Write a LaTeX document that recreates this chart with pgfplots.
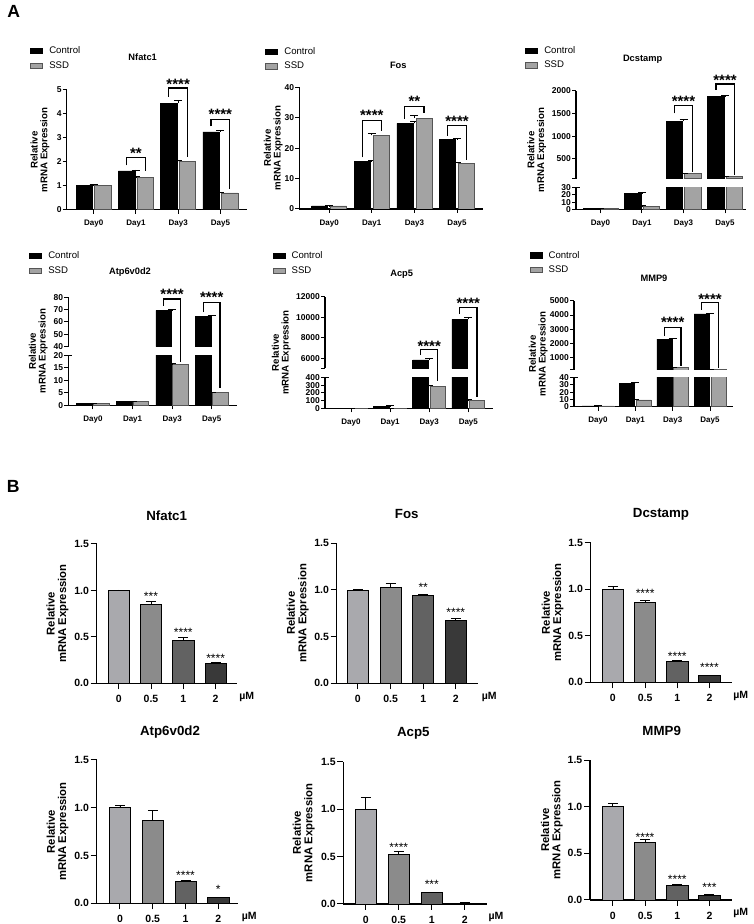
\documentclass[border=0pt]{standalone}
\usepackage{fontspec}
\setmainfont{Liberation Sans}
\usepackage{pgfplots}
\pgfplotsset{compat=1.18}
\definecolor{ssd}{HTML}{A3A3A3}
\definecolor{ssdedge}{HTML}{555555}
\definecolor{cA}{HTML}{A9A9AD}
\definecolor{cB}{HTML}{8B8B8B}
\definecolor{cC}{HTML}{626262}
\definecolor{cD}{HTML}{393939}
\newcommand{\fs}[1]{\fontsize{#1}{#1}\selectfont}
\tikzset{
  brk/.style={line width=1.2pt, black},
  stA/.style={font=\bfseries\fs{15}, inner sep=0pt, anchor=base, yshift=-8.6pt},
  stB/.style={font=\fs{12}, inner sep=0pt, anchor=base, yshift=-6.9pt},
}
\pgfplotsset{
  legsq/.style={legend image code/.code={\draw[##1] (0pt,-2.6pt) rectangle (12pt,2.6pt);}},
  errs/.style={/pgfplots/error bars/y dir=plus, /pgfplots/error bars/y explicit,
     /pgfplots/error bars/error mark=|,
     /pgfplots/error bars/error bar style={line width=0.8pt, black},
     /pgfplots/error bars/error mark options={line width=0.8pt, black, mark size=#1}},
  ctrl/.style={ybar, fill=black, draw=black, line width=0.6pt, bar shift=-#1, legsq, errs=4pt},
  ssdb/.style={ybar, fill=ssd, draw=ssdedge, line width=0.6pt, bar shift=#1, legsq, errs=4pt},
  bb/.style={ybar, fill=#1, draw=black, line width=0.7pt, bar shift=0pt, errs=5pt},
  base/.style={scale only axis, anchor=south west, axis x line*=bottom, axis y line*=left,
    axis line style={line width=1.1pt, black}, tick align=outside,
    tick style={black, line width=1pt},
    clip mode=individual, scaled y ticks=false,
    /pgf/number format/assume math mode=true, /pgf/number format/1000 sep={},
    xtick={0,1,2,3}},
  pA/.style={base, major tick length=4pt, xticklabels={Day0,Day1,Day3,Day5},
    xticklabel style={font=\bfseries\fs{8}, yshift=-3pt},
    yticklabel style={font=\bfseries\fs{8.5}, inner sep=1pt},
    ylabel={Relative\\mRNA Expression},
    ylabel style={font=\bfseries\fs{9.7}, align=center, anchor=center},
    title style={font=\bfseries\fs{9.3}, anchor=center, yshift=0pt},
    legend style={draw=none, fill=none, font=\fs{9.6}, anchor=west, inner sep=0pt,
      row sep=3.5pt, column sep=5pt, cells={anchor=west}, nodes={inner sep=1.5pt}}},
  pAup/.style={pA, axis x line=none},
  pAlo/.style={pA, ylabel={}},
  Tcap/.style={extra y ticks={#1}, extra y tick labels={}, extra y tick style={tick align=center, major tick length=8pt}},
  pB/.style={base, major tick length=6pt, ymin=0, ymax=1.5, ytick={0,0.5,1,1.5},
    yticklabels={0.0,0.5,1.0,1.5}, xticklabels={0,0.5,1,2}, bar width=21.3pt,
    xticklabel style={font=\bfseries\fs{10.5}, yshift=-2.5pt},
    yticklabel style={font=\bfseries\fs{10.5}, inner sep=1.5pt},
    ylabel={Relative\\mRNA Expression},
    ylabel style={font=\bfseries\fs{11.3}, align=center, anchor=center},
    title style={font=\bfseries\fs{13.3}, anchor=center, yshift=0pt}},
}
\newcommand{\um}[2]{\node[font=\bfseries\fs{10.5}] at (axis description cs:#1,#2) {µM};}
\newcommand{\legimgs}{%
  \addlegendimage{legsq, fill=black, draw=black, line width=0.6pt}
  \addlegendimage{legsq, fill=ssd, draw=ssdedge, line width=0.6pt}}
\begin{document}
\begin{tikzpicture}
\useasboundingbox (0,0) rectangle (753pt,924pt);
\node[font=\bfseries\fs{17.6}] at (13.7pt,912.3pt) {A};
\node[font=\bfseries\fs{17.6}] at (13.3pt,437.3pt) {B};

% ---------------- A1 Nfatc1
\begin{axis}[pA, at={(66.7pt,714.3pt)}, width=180.3pt, height=119.7pt,
  xmin=-0.64, xmax=3.63, ymin=0, ymax=5, ytick={0,...,5}, bar width=16.5pt,
  title=Nfatc1, title style={at={(axis description cs:0.4215,1.228)}},
  ylabel style={at={(axis description cs:-0.148,0.499)}},
  legend style={at={(axis description cs:-0.2035,1.2653)}}]
\addplot[ctrl=9.3pt] coordinates {(0,1.0) +- (0,0.04) (1,1.62) +- (0,0.04) (2,4.45) +- (0,0.12) (3,3.25) +- (0,0.05)};
\addplot[ssdb=9.3pt] coordinates {(0,1.0) +- (0,0.04) (1,1.35) +- (0,0.03) (2,2.02) +- (0,0.05) (3,0.70) +- (0,0.02)};
\legend{Control,SSD}
\draw[brk] ([xshift=-9.3pt]axis cs:1,1.85) |- ([xshift=9.3pt]axis cs:1,2.18) -- ([xshift=9.3pt]axis cs:1,1.6);
\node[stA] at (axis cs:1,2.48) {**};
\draw[brk] ([xshift=-9.3pt]axis cs:2,4.72) |- ([xshift=9.3pt]axis cs:2,5.08) -- ([xshift=9.3pt]axis cs:2,2.2);
\node[stA] at (axis cs:2,5.4) {****};
\draw[brk] ([xshift=-9.3pt]axis cs:3,3.48) |- ([xshift=9.3pt]axis cs:3,3.78) -- ([xshift=9.3pt]axis cs:3,0.85);
\node[stA] at (axis cs:3,4.11) {****};
\end{axis}

% ---------------- A2 Fos
\begin{axis}[pA, at={(299.3pt,715pt)}, width=184pt, height=121.7pt,
  xmin=-0.70, xmax=3.616, ymin=0, ymax=40, ytick={0,10,...,40}, bar width=16pt,
  title=Fos, title style={at={(axis description cs:0.538,1.134)}},
  ylabel style={at={(axis description cs:-0.1413,0.501)}},
  legend style={at={(axis description cs:-0.186,1.234)}}]
\addplot[ctrl=9.6pt] coordinates {(0,1.0) +- (0,0.1) (1,15.6) +- (0,0.5) (2,28.1) +- (0,0.8) (3,22.8) +- (0,0.3)};
\addplot[ssdb=9.6pt] coordinates {(0,1.0) +- (0,0.1) (1,24.2) +- (0,0.5) (2,29.9) +- (0,0.9) (3,15.0) +- (0,0.3)};
\legend{Control,SSD}
\draw[brk] ([xshift=-9.6pt]axis cs:1,17.0) |- ([xshift=9.6pt]axis cs:1,29.1) -- ([xshift=9.6pt]axis cs:1,25.6);
\node[stA] at (axis cs:1,32.0) {****};
\draw[brk] ([xshift=-9.6pt]axis cs:2,29.6) |- ([xshift=9.6pt]axis cs:2,33.8) -- ([xshift=9.6pt]axis cs:2,31.6);
\node[stA] at (axis cs:2,36.6) {**};
\draw[brk] ([xshift=-9.6pt]axis cs:3,24.0) |- ([xshift=9.6pt]axis cs:3,27.4) -- ([xshift=9.6pt]axis cs:3,16.2);
\node[stA] at (axis cs:3,29.8) {****};
\end{axis}

% ---------------- A3 Dcstamp (broken)
\begin{axis}[pAup, at={(576pt,745.3pt)}, width=170pt, height=87.7pt,
  xmin=-0.59, xmax=3.506, ymin=57, ymax=2000, ytick={57,500,1000,1500,2000},
  yticklabels={,500,1000,1500,2000}, bar width=16.5pt,
  title=Dcstamp, title style={at={(axis description cs:0.392,1.288)}},
  ylabel style={at={(axis description cs:-0.231,0.327)}},
  legend style={at={(axis description cs:-0.300,1.379)}}]
\legimgs
\addplot[ctrl=9.1pt, forget plot] coordinates {(2,1335) +- (0,30) (3,1875) +- (0,25)};
\addplot[ssdb=9.1pt, forget plot] coordinates {(2,177) +- (0,5) (3,112) +- (0,4)};
\legend{Control,SSD}
\draw[brk] ([xshift=-9.1pt]axis cs:2,1506) |- ([xshift=9.1pt]axis cs:2,1683) -- ([xshift=9.1pt]axis cs:2,212);
\node[stA] at (axis cs:2,1845) {****};
\draw[brk] ([xshift=-9.1pt]axis cs:3,2022) |- ([xshift=9.1pt]axis cs:3,2155) -- ([xshift=9.1pt]axis cs:3,139);
\node[stA] at (axis cs:3,2317) {****};
\end{axis}
\begin{axis}[pAlo, at={(576pt,714.7pt)}, width=170pt, height=21.6pt,
  xmin=-0.59, xmax=3.506, ymin=0, ymax=30, ytick={0,10,20,30}, bar width=16.5pt, Tcap=30]
\addplot[ctrl=9.1pt] coordinates {(0,1) +- (0,0.2) (1,22) +- (0,1) (2,1335) +- (0,30) (3,1875) +- (0,25)};
\addplot[ssdb=9.1pt] coordinates {(0,1) +- (0,0.2) (1,4.5) +- (0,0.5) (2,177) +- (0,5) (3,112) +- (0,4)};
\end{axis}

% ---------------- A4 Atp6v0d2 (broken)
\begin{axis}[pAup, at={(68.3pt,577.3pt)}, width=169pt, height=49.4pt,
  xmin=-0.624, xmax=3.646, ymin=40, ymax=80, ytick={40,50,...,80}, bar width=15.8pt,
  title=Atp6v0d2, title style={at={(axis description cs:0.365,1.397)}},
  ylabel style={at={(axis description cs:-0.1775,-0.093)}},
  legend style={at={(axis description cs:-0.2326,1.689)}}]
\legimgs
\addplot[ctrl=8.3pt, forget plot] coordinates {(2,69.5) +- (0,0.5) (3,64.6) +- (0,0.5)};
\legend{Control,SSD}
\draw[brk] ([xshift=-8.3pt]axis cs:2,73) |- ([xshift=8.3pt]axis cs:2,78.6) -- ([xshift=8.3pt]axis cs:2,27.6);
\node[stA] at (axis cs:2,85.1) {****};
\draw[brk] ([xshift=-8.3pt]axis cs:3,68) |- ([xshift=8.3pt]axis cs:3,75.9) -- ([xshift=8.3pt]axis cs:3,6.6);
\node[stA] at (axis cs:3,82.4) {****};
\end{axis}
\begin{axis}[pAlo, at={(68.3pt,518.7pt)}, width=169pt, height=50pt,
  xmin=-0.624, xmax=3.646, ymin=0, ymax=20, ytick={0,5,...,20}, bar width=15.8pt, Tcap=20]
\addplot[ctrl=8.3pt] coordinates {(0,0.8) +- (0,0.05) (1,1.5) +- (0,0.1) (2,69.5) +- (0,0.5) (3,64.6) +- (0,0.5)};
\addplot[ssdb=8.3pt] coordinates {(0,0.9) +- (0,0.05) (1,1.6) +- (0,0.1) (2,16.4) +- (0,0.2) (3,5.0) +- (0,0.2)};
\end{axis}

% ---------------- A5 Acp5 (broken)
\begin{axis}[pAup, at={(325pt,555.5pt)}, width=168.3pt, height=71.8pt,
  xmin=-0.665, xmax=3.639, ymin=5000, ymax=12000, ytick={5000,6000,8000,10000,12000},
  yticklabels={,6000,8000,10000,12000}, bar width=15.6pt,
  title=Acp5, title style={at={(axis description cs:0.4557,1.2326)}},
  ylabel style={at={(axis description cs:-0.2597,0.2228)}},
  legend style={at={(axis description cs:-0.313,1.465)}}]
\legimgs
\addplot[ctrl=8.65pt, forget plot] coordinates {(2,5830) +- (0,200) (3,9780) +- (0,250)};
\legend{Control,SSD}
\draw[brk] ([xshift=-8.65pt]axis cs:2,6312) |- ([xshift=8.65pt]axis cs:2,6868) -- ([xshift=8.65pt]axis cs:2,3776);
\node[stA] at (axis cs:2,7512) {****};
\draw[brk] ([xshift=-8.65pt]axis cs:3,10312) |- ([xshift=8.65pt]axis cs:3,10927) -- ([xshift=8.65pt]axis cs:3,2215);
\node[stA] at (axis cs:3,11678) {****};
\end{axis}
\begin{axis}[pAlo, at={(325pt,515.7pt)}, width=168.3pt, height=30.6pt,
  xmin=-0.665, xmax=3.639, ymin=0, ymax=400, ytick={0,100,...,400}, bar width=15.6pt, Tcap=400]
\addplot[ctrl=8.65pt] coordinates {(0,1) +- (0,0.2) (1,30) +- (0,3) (2,5830) +- (0,200) (3,9780) +- (0,250)};
\addplot[ssdb=8.65pt] coordinates {(0,1) +- (0,0.2) (1,3) +- (0,0.5) (2,285) +- (0,20) (3,108) +- (0,4)};
\end{axis}

% ---------------- A6 MMP9 (broken)
\begin{axis}[pAup, at={(574pt,554pt)}, width=159.3pt, height=69pt,
  xmin=-0.643, xmax=3.624, ymin=98, ymax=5000, ytick={98,1000,2000,3000,4000,5000},
  yticklabels={,1000,2000,3000,4000,5000}, bar width=15pt,
  title=MMP9, title style={at={(axis description cs:0.502,1.242)}},
  ylabel style={at={(axis description cs:-0.224,0.233)}},
  legend style={at={(axis description cs:-0.2804,1.556)}}]
\legimgs
\addplot[ctrl=8.3pt, forget plot] coordinates {(2,2285) +- (0,40) (3,4080) +- (0,50)};
\addplot[ssdb=8.3pt, forget plot] coordinates {(2,262) +- (0,10) (3,150) +- (0,5)};
\legend{Control,SSD}
\draw[brk] ([xshift=-8.3pt]axis cs:2,2513) |- ([xshift=8.3pt]axis cs:2,3131) -- ([xshift=8.3pt]axis cs:2,382);
\node[stA] at (axis cs:2,3700) {****};
\draw[brk] ([xshift=-8.3pt]axis cs:3,4361) |- ([xshift=8.3pt]axis cs:3,4879) -- ([xshift=8.3pt]axis cs:3,240);
\node[stA] at (axis cs:3,5355) {****};
\end{axis}
\begin{axis}[pAlo, at={(574pt,517.3pt)}, width=159.3pt, height=29pt,
  xmin=-0.643, xmax=3.624, ymin=0, ymax=40, ytick={0,10,...,40}, bar width=15pt, Tcap=40]
\addplot[ctrl=8.3pt] coordinates {(0,1) +- (0,0.1) (1,32) +- (0,1.5) (2,2285) +- (0,40) (3,4080) +- (0,50)};
\addplot[ssdb=8.3pt] coordinates {(0,1) +- (0,0.1) (1,9.5) +- (0,0.5) (2,262) +- (0,10) (3,150) +- (0,5)};
\end{axis}

% ================= B row 1
\begin{axis}[pB, at={(96.7pt,240.7pt)}, width=140.6pt, height=139.3pt, xmin=-0.68, xmax=3.67,
  title=Nfatc1, title style={at={(axis description cs:0.498,1.163)}},
  ylabel style={at={(axis description cs:-0.279,0.5)}}]
\addplot[bb=cA] coordinates {(0,1.00) +- (0,0.005)};
\addplot[bb=cB] coordinates {(1,0.85) +- (0,0.03)};
\addplot[bb=cC] coordinates {(2,0.46) +- (0,0.03)};
\addplot[bb=cD] coordinates {(3,0.21) +- (0,0.02)};
\node[stB] at (axis cs:1,0.962) {***};
\node[stB] at (axis cs:2,0.574) {****};
\node[stB] at (axis cs:3,0.297) {****};
\um{1.067}{-0.096}
\end{axis}
\begin{axis}[pB, at={(336.7pt,240.7pt)}, width=141pt, height=140pt, xmin=-0.65, xmax=3.67,
  title=Fos, title style={at={(axis description cs:0.4965,1.166)}},
  ylabel style={at={(axis description cs:-0.2766,0.5)}}]
\addplot[bb=cA] coordinates {(0,1.00) +- (0,0.01)};
\addplot[bb=cB] coordinates {(1,1.03) +- (0,0.04)};
\addplot[bb=cC] coordinates {(2,0.94) +- (0,0.015)};
\addplot[bb=cD] coordinates {(3,0.67) +- (0,0.025)};
\node[stB] at (axis cs:2,1.06) {**};
\node[stB] at (axis cs:3,0.785) {****};
\um{1.082}{-0.0957}
\end{axis}
\begin{axis}[pB, at={(590.7pt,241.7pt)}, width=141pt, height=139.6pt, xmin=-0.69, xmax=3.69,
  title=Dcstamp, title style={at={(axis description cs:0.4986,1.1626)}},
  ylabel style={at={(axis description cs:-0.271,0.5)}}]
\addplot[bb=cA] coordinates {(0,1.00) +- (0,0.03)};
\addplot[bb=cB] coordinates {(1,0.86) +- (0,0.02)};
\addplot[bb=cC] coordinates {(2,0.22) +- (0,0.01)};
\addplot[bb=cD] coordinates {(3,0.07) +- (0,0.005)};
\node[stB] at (axis cs:1,0.99) {****};
\node[stB] at (axis cs:2,0.31) {****};
\node[stB] at (axis cs:3,0.186) {****};
\um{1.064}{-0.096}
\end{axis}

% ================= B row 2
\begin{axis}[pB, at={(96.7pt,20.7pt)}, width=141.6pt, height=143.3pt, xmin=-0.71, xmax=3.61,
  title=Atp6v0d2, title style={at={(axis description cs:0.5177,1.1514)}},
  ylabel style={at={(axis description cs:-0.277,0.5)}}]
\addplot[bb=cA] coordinates {(0,1.00) +- (0,0.02)};
\addplot[bb=cB] coordinates {(1,0.87) +- (0,0.10)};
\addplot[bb=cC] coordinates {(2,0.23) +- (0,0.005)};
\addplot[bb=cD] coordinates {(3,0.06) +- (0,0.005)};
\node[stB] at (axis cs:2,0.32) {****};
\node[stB] at (axis cs:3,0.18) {*};
\um{1.0777}{-0.0935}
\end{axis}
\begin{axis}[pB, at={(343.3pt,20pt)}, width=144pt, height=142.3pt, xmin=-0.68, xmax=3.68,
  title=Acp5, title style={at={(axis description cs:0.486,1.1574)}},
  ylabel style={at={(axis description cs:-0.275,0.5)}}]
\addplot[bb=cA] coordinates {(0,1.00) +- (0,0.12)};
\addplot[bb=cB] coordinates {(1,0.52) +- (0,0.035)};
\addplot[bb=cC] coordinates {(2,0.12) +- (0,0.005)};
\addplot[bb=cD] coordinates {(3,0.01) +- (0,0.003)};
\node[stB] at (axis cs:1,0.63) {****};
\node[stB] at (axis cs:2,0.235) {***};
\um{1.06}{-0.0935}
\end{axis}
\begin{axis}[pB, at={(590pt,24pt)}, width=141.7pt, height=140pt, xmin=-0.71, xmax=3.69,
  title=MMP9, title style={at={(axis description cs:0.506,1.162)}},
  ylabel style={at={(axis description cs:-0.270,0.5)}}]
\addplot[bb=cA] coordinates {(0,1.00) +- (0,0.03)};
\addplot[bb=cB] coordinates {(1,0.62) +- (0,0.025)};
\addplot[bb=cC] coordinates {(2,0.16) +- (0,0.008)};
\addplot[bb=cD] coordinates {(3,0.05) +- (0,0.005)};
\node[stB] at (axis cs:1,0.70) {****};
\node[stB] at (axis cs:2,0.25) {****};
\node[stB] at (axis cs:3,0.168) {***};
\um{1.0635}{-0.095}
\end{axis}
\end{tikzpicture}
\end{document}
